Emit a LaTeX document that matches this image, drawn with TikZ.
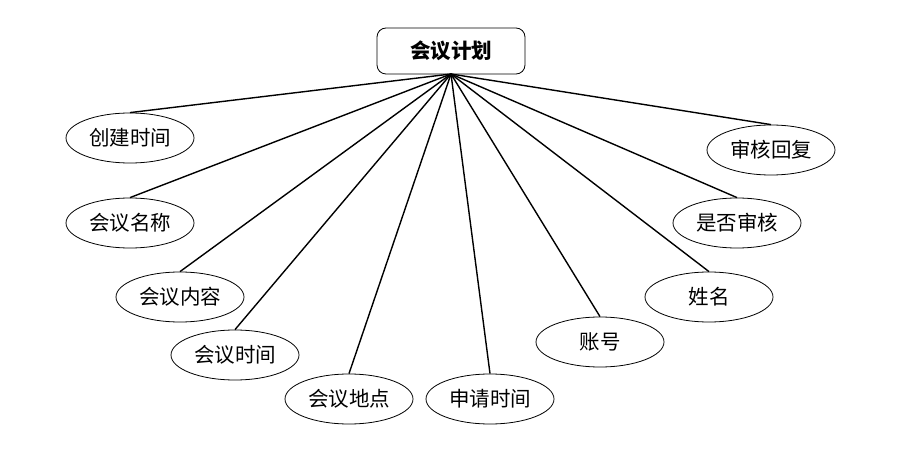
\documentclass[tikz,border=0pt]{standalone}
\usepackage{fontspec}
\setmainfont{Noto Sans CJK SC}
\usetikzlibrary{shapes.geometric}
\begin{document}
\begin{tikzpicture}[x=1pt,y=-1pt,
  attr/.style={ellipse,draw,line width=0.8pt,minimum width=128pt,minimum height=50pt,inner sep=0pt,font=\fontsize{20.5}{20.5}\selectfont},
  root/.style={rectangle,rounded corners=9pt,draw,line width=0.8pt,minimum width=148pt,minimum height=46pt,inner sep=0pt,font=\fontsize{20.5}{20.5}\selectfont\bfseries},
  link/.style={line width=1.4pt}]
\useasboundingbox (0,0) rectangle (898,468);
\node[root] (r) at (451,51) {会议计划};
\coordinate (c) at (451,74);
\node[attr] (a1) at (130,138) {创建时间};
\node[attr] (a2) at (130,223) {会议名称};
\node[attr] (a3) at (180,297) {会议内容};
\node[attr] (a4) at (235,355) {会议时间};
\node[attr] (a5) at (349,399) {会议地点};
\node[attr] (a6) at (490,399) {申请时间};
\node[attr] (a7) at (600,342) {账号};
\node[attr] (a8) at (709,297) {姓名};
\node[attr] (a9) at (737,223) {是否审核};
\node[attr] (a10) at (771,150) {审核回复};
\foreach \n in {a1,a2,a3,a4,a5,a6,a7,a8,a9,a10}
  \draw[link] (c) -- (\n.north);
\end{tikzpicture}
\end{document}
